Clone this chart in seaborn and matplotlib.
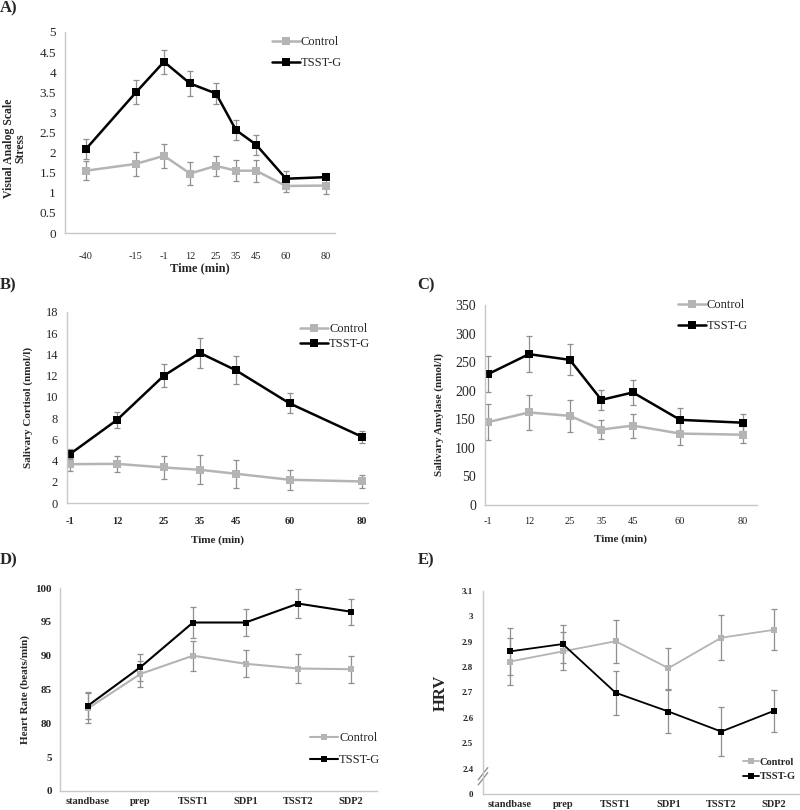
import numpy as np
import pandas as pd
import seaborn as sns
import matplotlib.pyplot as plt

# panel A: visual analog scale stress
time_a = [-40, -15, -1, 12, 25, 35, 45, 60, 80]
vas_ctrl = [1.55, 1.72, 1.92, 1.48, 1.67, 1.55, 1.55, 1.17, 1.18]
vas_ctrl_err = [0.24, 0.30, 0.30, 0.28, 0.25, 0.26, 0.27, 0.16, 0.20]
vas_tsst = [2.09, 3.50, 4.26, 3.72, 3.47, 2.56, 2.20, 1.35, 1.39]
vas_tsst_err = [0.24, 0.30, 0.30, 0.30, 0.27, 0.25, 0.25, 0.18, 0.04]

# panel B: salivary cortisol
time_bc = [-1, 12, 25, 35, 45, 60, 80]
cort_ctrl = [3.66, 3.69, 3.35, 3.13, 2.76, 2.19, 2.03]
cort_ctrl_err = [0.60, 0.75, 1.05, 1.37, 1.30, 0.94, 0.63]
cort_tsst = [4.63, 7.83, 11.99, 14.15, 12.52, 9.39, 6.26]
cort_tsst_err = [0.50, 0.78, 1.07, 1.40, 1.32, 0.95, 0.57]

# panel C: salivary amylase
amy_ctrl = [145, 162, 156, 132, 139, 125, 123]
amy_ctrl_err = [32, 31, 28, 17, 21, 20, 15]
amy_tsst = [229, 264, 254, 184, 197, 149, 144]
amy_tsst_err = [32, 32, 27, 18, 22, 21, 15]

# panels D/E: heart rate and HRV
phases = ['standbase', 'prep', 'TSST1', 'SDP1', 'TSST2', 'SDP2']
hr_ctrl = [82.2, 87.3, 90.0, 88.8, 88.1, 88.0]
hr_ctrl_err = [2.3, 1.9, 2.2, 2.0, 2.1, 2.0]
hr_tsst = [82.6, 88.3, 94.9, 94.9, 97.7, 96.5]
hr_tsst_err = [2.0, 2.0, 2.3, 2.0, 2.1, 1.9]
hrv_ctrl = [2.822, 2.862, 2.902, 2.796, 2.916, 2.947]
hrv_ctrl_err = [0.092, 0.075, 0.085, 0.081, 0.088, 0.081]
hrv_tsst = [2.862, 2.891, 2.699, 2.625, 2.546, 2.628]
hrv_tsst_err = [0.093, 0.076, 0.086, 0.086, 0.096, 0.083]

groups = ['Control', 'TSST-G']
palette = {'Control': '#b4b4b4', 'TSST-G': 'black'}
ERR_COLOR = '#8f8f8f'
SPINE = '#c8c8c8'


def long_df(x, ctrl, tsst):
    return pd.DataFrame({
        'x': list(x) + list(x),
        'y': list(ctrl) + list(tsst),
        'group': ['Control'] * len(x) + ['TSST-G'] * len(x),
    })


def draw(ax, x, ctrl, ctrl_err, tsst, tsst_err, lw=1.8, ms=5.5):
    ax.errorbar(x, ctrl, yerr=ctrl_err, fmt='none', ecolor=ERR_COLOR,
                elinewidth=0.9, capsize=2.5, capthick=0.9, zorder=1.5)
    ax.errorbar(x, tsst, yerr=tsst_err, fmt='none', ecolor=ERR_COLOR,
                elinewidth=0.9, capsize=2.5, capthick=0.9, zorder=1.5)
    sns.lineplot(data=long_df(x, ctrl, tsst), x='x', y='y', hue='group',
                 hue_order=groups, palette=palette, marker='s', markersize=ms,
                 markeredgewidth=0, linewidth=lw, sort=False, errorbar=None, ax=ax)
    ax.set_xlabel('')
    ax.set_ylabel('')
    sns.despine(ax=ax)
    for s in ['left', 'bottom']:
        ax.spines[s].set_color(SPINE)
        ax.spines[s].set_linewidth(1)
    ax.tick_params(axis='both', length=3, color=SPINE, width=0.8)


def place_legend(ax, x0, y0, fs=9, weight='normal', hl=2.2, spacing=0.6):
    sns.move_legend(ax, 'upper left', bbox_to_anchor=(x0, y0), frameon=False,
                    title=None, borderpad=0, borderaxespad=0, handlelength=hl,
                    handletextpad=0.1, labelspacing=spacing,
                    prop={'size': fs, 'weight': weight})


sns.set_style('white')
plt.rcParams['font.family'] = ['Liberation Serif', 'DejaVu Serif']
plt.rcParams['axes.unicode_minus'] = False

fig = plt.figure(figsize=(8, 8.1), dpi=100)
W, H = 800, 810


def axes_px(left, top, right, bottom):
    return fig.add_axes([left / W, 1 - bottom / H, (right - left) / W, (bottom - top) / H])


# ---------- A ----------
ax_a = axes_px(65, 32, 335, 233)
draw(ax_a, time_a, vas_ctrl, vas_ctrl_err, vas_tsst, vas_tsst_err)
ax_a.set_xlim(-50.5, 84.5)
ax_a.set_ylim(0, 5)
ax_a.set_yticks(np.arange(0, 5.01, 0.5))
ax_a.set_yticklabels(['0', '0.5', '1', '1.5', '2', '2.5', '3', '3.5', '4', '4.5', '5'])
ax_a.set_xticks(time_a)
ax_a.tick_params(axis='y', labelsize=9.5)
ax_a.tick_params(axis='x', labelsize=7.5, pad=12, direction='inout')
ax_a.set_xlabel('Time (min)', fontsize=9, fontweight='bold', labelpad=1)
ax_a.set_ylabel('Visual Analog Scale\nStress', fontsize=8.5, fontweight='bold', linespacing=0.95)
ax_a.yaxis.set_label_coords(-0.141, 0.42)
place_legend(ax_a, 0.767, 0.98, fs=9, spacing=0.75)

# ---------- B ----------
ax_b = axes_px(67, 312, 368, 503)
draw(ax_b, time_bc, cort_ctrl, cort_ctrl_err, cort_tsst, cort_tsst_err)
ax_b.set_xlim(-1.9, 81.8)
ax_b.set_ylim(0, 18)
ax_b.set_yticks(range(0, 19, 2))
ax_b.set_xticks(time_bc)
ax_b.tick_params(axis='y', labelsize=9)
ax_b.tick_params(axis='x', labelsize=7.5, pad=7)
for t in ax_b.get_xticklabels():
    t.set_fontweight('bold')
ax_b.set_xlabel('Time (min)', fontsize=8, fontweight='bold', labelpad=7)
ax_b.set_ylabel('Salivary Cortisol (nmol/l)', fontsize=8, fontweight='bold')
ax_b.yaxis.set_label_coords(-0.113, 0.5)
place_legend(ax_b, 0.775, 0.94, fs=9, spacing=0.2)

# ---------- C ----------
ax_c = axes_px(485, 305, 757, 505)
draw(ax_c, time_bc, amy_ctrl, amy_ctrl_err, amy_tsst, amy_tsst_err)
ax_c.set_xlim(-1.95, 84.4)
ax_c.set_ylim(0, 350)
ax_c.set_yticks(range(0, 351, 50))
ax_c.set_xticks(time_bc)
ax_c.tick_params(axis='y', labelsize=10)
ax_c.tick_params(axis='x', labelsize=7.5, pad=6)
ax_c.set_xlabel('Time (min)', fontsize=8, fontweight='bold', labelpad=6)
ax_c.set_ylabel('Salivary Amylase (nmol/l)', fontsize=8, fontweight='bold')
ax_c.yaxis.set_label_coords(-0.15, 0.45)
place_legend(ax_c, 0.71, 1.03, fs=9, spacing=0.75)


# ---------- D (broken y axis 5 -> 80) ----------
def hr_fwd(v):
    v = np.asarray(v, dtype=float)
    return np.where(v >= 80, (v - 70) / 5, np.where(v <= 5, v / 5, 1 + (v - 5) / 75))


def hr_inv(t):
    t = np.asarray(t, dtype=float)
    return np.where(t >= 2, 5 * t + 70, np.where(t <= 1, 5 * t, 5 + (t - 1) * 75))


ax_d = axes_px(60, 588, 377, 791)
draw(ax_d, phases, hr_ctrl, hr_ctrl_err, hr_tsst, hr_tsst_err, lw=1.5, ms=5)
ax_d.set_yscale('function', functions=(hr_fwd, hr_inv))
ax_d.set_ylim(0, 100)
ax_d.set_yticks([0, 5, 80, 85, 90, 95, 100])
ax_d.set_yticklabels(['0', '5', '80', '85', '90', '95', '100'])
ax_d.set_xlim(-0.53, 5.5)
ax_d.tick_params(axis='y', labelsize=8, pad=3)
ax_d.tick_params(axis='x', labelsize=7.5, pad=1)
for t in ax_d.get_xticklabels() + ax_d.get_yticklabels():
    t.set_fontweight('bold')
ax_d.set_ylabel('Heart Rate (beats/min)', fontsize=8, fontweight='bold')
ax_d.yaxis.set_label_coords(-0.095, 0.5)
place_legend(ax_d, 0.79, 0.29, fs=9, spacing=0.8)


# ---------- E (broken y axis 0 -> 2.4) ----------
def hrv_fwd(v):
    v = np.asarray(v, dtype=float)
    return np.where(v >= 2.4, v, 2.3 + v * (0.1 / 2.4))


def hrv_inv(t):
    t = np.asarray(t, dtype=float)
    return np.where(t >= 2.4, t, (t - 2.3) * 24)


ax_e = axes_px(483, 591, 800, 794)
draw(ax_e, phases, hrv_ctrl, hrv_ctrl_err, hrv_tsst, hrv_tsst_err, lw=1.3, ms=4.5)
ax_e.set_yscale('function', functions=(hrv_fwd, hrv_inv))
ax_e.set_ylim(0, 3.1)
ax_e.set_yticks([0, 2.4, 2.5, 2.6, 2.7, 2.8, 2.9, 3.0, 3.1])
ax_e.set_yticklabels(['0', '2.4', '2.5', '2.6', '2.7', '2.8', '2.9', '3', '3.1'])
ax_e.set_xlim(-0.51, 5.49)
ax_e.tick_params(axis='y', labelsize=6.5, pad=4)
ax_e.tick_params(axis='x', labelsize=7.5, pad=1)
for t in ax_e.get_xticklabels() + ax_e.get_yticklabels():
    t.set_fontweight('bold')
ax_e.set_ylabel('HRV', fontsize=12, fontweight='bold')
ax_e.yaxis.set_label_coords(-0.107, 0.5)
place_legend(ax_e, 0.82, 0.18, fs=7.5, weight='bold', hl=1.5, spacing=0.5)
# break marks on the y axis
for dy in (0.0, 0.025):
    ax_e.plot([-0.015, 0.015], [0.045 + dy, 0.105 + dy], transform=ax_e.transAxes,
              color='#888888', lw=0.9, clip_on=False)

# panel letters
for label, x, y in [('A)', 0, 8), ('B)', 0, 285), ('C)', 417, 285),
                    ('D)', 0, 560), ('E)', 418, 560)]:
    fig.text(x / W, 1 - y / H, label, fontsize=12, fontweight='bold', va='center', ha='left')

fig.savefig('out.png', dpi=100)
